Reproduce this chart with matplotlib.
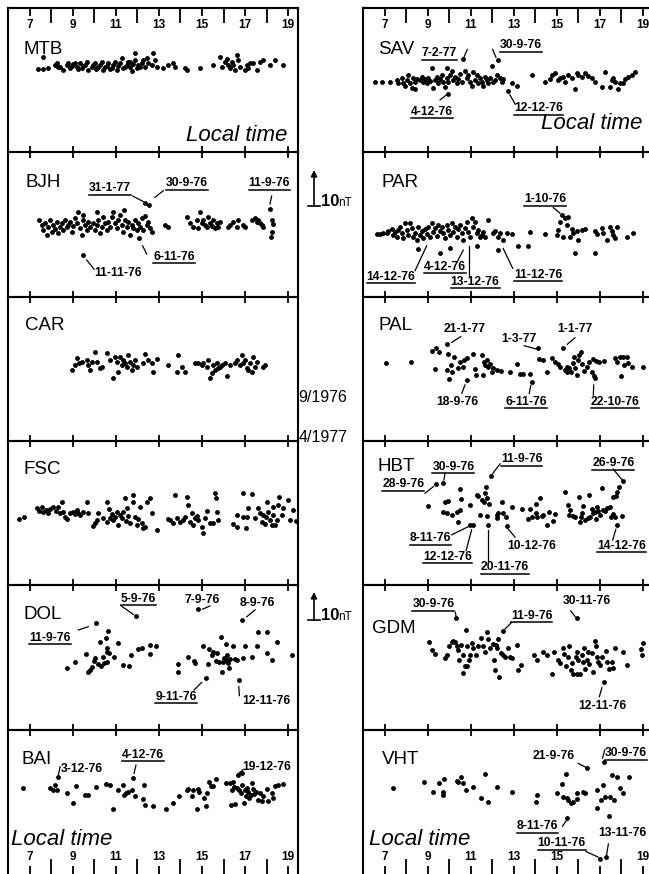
import matplotlib
matplotlib.use("Agg")
import matplotlib.pyplot as plt
from matplotlib.lines import Line2D
from matplotlib.patches import FancyArrowPatch

plt.rcParams['font.family'] = ['Liberation Sans', 'DejaVu Sans']

# Figure size in pixels (dpi 100)
W, H = 649, 874

# Local time ticks
HOUR_LABELS = [7, 9, 11, 13, 15, 17, 19]
EVEN_HOURS = [8, 10, 12, 14, 16, 18]
# Hour labels hidden behind data in the original
HIDDEN_LABELS = [("VHT", 17)]

# Station points: (local time [h], field value [nT above panel floor])
MTB = [(7.39, 25.2), (7.59, 25.2), (7.62, 28.9), (7.85, 25.5), (8.16, 26.5), (8.24, 27.0),
       (8.30, 25.8), (8.40, 26.0), (8.55, 25.0), (8.71, 26.5), (8.78, 27.2), (8.86, 25.5),
       (8.95, 26.2), (9.02, 26.8), (9.10, 27.2), (9.17, 26.0), (9.25, 25.2), (9.33, 27.0),
       (9.40, 25.5), (9.48, 26.2), (9.56, 26.5), (9.64, 27.4), (9.71, 25.0), (9.87, 26.0),
       (9.95, 26.5), (10.02, 27.0), (10.05, 25.2), (10.10, 25.5), (10.18, 26.0), (10.26, 26.5),
       (10.33, 27.4), (10.41, 25.0), (10.49, 25.8), (10.57, 26.2), (10.64, 27.2), (10.72, 25.4),
       (10.80, 25.5), (10.88, 26.5), (10.95, 27.4), (11.03, 24.8), (11.11, 26.2), (11.19, 27.0),
       (11.26, 28.5), (11.34, 25.5), (11.42, 26.0), (11.50, 26.5), (11.57, 27.4), (11.65, 26.0),
       (11.65, 27.5), (11.73, 24.5), (11.81, 26.8), (11.88, 28.0), (11.88, 30.0), (11.96, 25.5),
       (12.04, 26.5), (12.12, 25.8), (12.19, 27.0), (12.27, 28.0), (12.35, 26.0), (12.43, 28.5),
       (12.50, 27.0), (12.66, 26.5), (12.74, 30.0), (12.81, 28.0), (12.89, 26.0), (13.20, 25.5),
       (13.43, 26.5), (13.67, 27.0), (13.74, 26.0), (14.21, 25.5), (14.29, 25.0), (14.91, 25.5),
       (15.53, 26.5), (15.84, 29.0), (15.91, 26.0), (16.07, 27.4), (16.15, 28.4), (16.22, 26.5),
       (16.30, 25.5), (16.38, 27.4), (16.46, 26.5), (16.53, 25.0), (16.61, 29.4), (16.69, 28.0),
       (16.77, 26.0), (17.00, 25.0), (17.08, 26.5), (17.16, 25.5), (17.23, 27.2), (17.39, 27.0),
       (17.54, 25.0), (17.70, 27.4), (17.85, 28.0), (18.16, 26.5), (18.40, 28.1), (18.75, 26.5)]

SAV = [(6.53, 21.4), (6.84, 21.4), (7.23, 21.4), (7.54, 21.9), (7.62, 21.1), (7.78, 22.4),
       (7.85, 20.9), (7.93, 20.1), (8.01, 21.9), (8.09, 23.4), (8.16, 20.9), (8.24, 19.4),
       (8.32, 22.4), (8.40, 21.4), (8.40, 19.1), (8.47, 22.1), (8.63, 21.9), (8.71, 22.9),
       (8.78, 21.4), (8.86, 22.1), (8.94, 21.1), (9.02, 22.4), (9.09, 21.7), (9.17, 25.5),
       (9.25, 19.4), (9.33, 21.9), (9.40, 22.7), (9.48, 21.1), (9.56, 22.1), (9.64, 23.4),
       (9.71, 21.4), (9.79, 19.9), (9.87, 25.5), (9.87, 22.4), (9.95, 21.4), (10.02, 23.4),
       (10.10, 24.7), (10.18, 21.9), (10.26, 22.9), (10.33, 20.9), (10.41, 22.1), (10.49, 23.7),
       (10.57, 21.4), (10.64, 28.2), (10.72, 24.7), (10.80, 22.4), (10.88, 23.4), (10.95, 21.4),
       (11.03, 20.1), (11.11, 24.4), (11.19, 21.9), (11.26, 23.4), (11.34, 20.9), (11.42, 22.4),
       (11.50, 21.4), (11.57, 20.1), (11.65, 22.7), (11.73, 21.9), (11.81, 20.9), (11.88, 22.4),
       (11.96, 26.2), (12.04, 21.4), (12.12, 21.9), (12.19, 23.4), (12.27, 28.0), (12.35, 22.4),
       (12.43, 21.4), (12.50, 22.1), (12.74, 18.7), (12.89, 20.9), (13.12, 20.1), (13.82, 23.4),
       (14.44, 21.4), (14.67, 22.1), (14.75, 23.4), (14.91, 24.1), (15.06, 21.9), (15.14, 22.4),
       (15.29, 22.7), (15.37, 21.4), (15.53, 23.4), (15.68, 22.4), (15.84, 19.1), (15.91, 24.1),
       (15.99, 23.4), (16.15, 22.7), (16.30, 24.1), (16.46, 23.1), (16.61, 22.4), (16.77, 21.4),
       (17.08, 19.7), (17.23, 24.4), (17.47, 19.7), (17.54, 21.9), (17.62, 22.4), (17.70, 21.4),
       (17.85, 19.1), (17.93, 20.9), (18.09, 20.9), (18.16, 22.1), (18.32, 22.7), (18.47, 23.4),
       (18.63, 24.4), (9.95, 17.7)]

BJH = [(7.43, 23.2), (7.54, 21.7), (7.62, 20.2), (7.70, 22.4), (7.78, 18.7), (7.85, 21.0),
       (7.93, 23.2), (8.01, 19.7), (8.09, 21.7), (8.16, 20.4), (8.24, 22.7), (8.32, 19.2),
       (8.40, 21.2), (8.47, 22.2), (8.55, 20.2), (8.63, 23.2), (8.71, 21.0), (8.78, 21.7),
       (8.86, 22.7), (8.94, 19.7), (9.02, 21.4), (9.09, 23.7), (9.17, 22.2), (9.25, 25.8),
       (9.33, 20.7), (9.40, 18.7), (9.45, 23.2), (9.48, 24.7), (9.56, 21.7), (9.64, 20.2),
       (9.71, 22.7), (9.79, 21.2), (9.95, 22.4), (10.02, 20.2), (10.10, 25.8), (10.13, 21.7),
       (10.18, 23.2), (10.26, 19.2), (10.33, 21.0), (10.41, 24.2), (10.49, 22.2), (10.57, 20.2),
       (10.64, 22.7), (10.72, 21.2), (10.80, 24.2), (10.88, 25.8), (10.95, 22.2), (11.03, 20.7),
       (11.11, 23.2), (11.19, 24.7), (11.26, 21.7), (11.34, 19.7), (11.37, 26.3), (11.42, 23.2),
       (11.50, 21.2), (11.57, 22.7), (11.65, 18.7), (11.73, 21.7), (11.81, 20.7), (11.88, 23.2),
       (11.96, 20.2), (12.04, 22.2), (12.09, 17.7), (12.12, 21.2), (12.19, 23.7), (12.27, 20.2),
       (12.35, 24.4), (12.43, 21.7), (12.50, 22.7), (12.58, 20.7), (12.66, 19.7), (12.35, 28.5),
       (12.55, 27.8), (13.28, 21.7), (13.43, 21.0), (14.29, 24.2), (14.44, 22.2), (14.60, 21.2),
       (14.75, 23.2), (14.83, 20.7), (14.91, 25.8), (14.98, 22.2), (15.06, 23.2), (15.14, 21.7),
       (15.22, 21.0), (15.29, 24.0), (15.37, 22.4), (15.45, 21.4), (15.53, 23.2), (15.60, 20.7),
       (15.68, 22.2), (15.76, 21.2), (15.84, 22.7), (16.22, 21.0), (16.30, 21.7), (16.46, 22.7),
       (16.61, 21.0), (16.69, 23.2), (16.92, 21.7), (17.00, 21.0), (17.31, 23.2), (17.47, 23.7),
       (17.54, 22.7), (17.62, 23.2), (17.70, 22.2), (17.78, 21.7), (17.85, 21.0), (18.16, 26.5),
       (18.24, 23.2), (18.32, 22.0), (18.24, 19.7), (18.19, 18.2), (9.48, 12.6)]

PAR = [(6.61, 18.9), (6.77, 19.0), (6.92, 19.2), (7.08, 19.4), (7.16, 20.0), (7.31, 20.4),
       (7.39, 18.7), (7.47, 19.7), (7.54, 18.2), (7.62, 20.2), (7.70, 21.0), (7.78, 19.2),
       (7.85, 17.7), (7.93, 22.2), (8.01, 20.2), (8.09, 18.7), (8.16, 22.2), (8.24, 20.7),
       (8.32, 18.0), (8.40, 19.4), (8.47, 17.2), (8.55, 21.0), (8.63, 18.7), (8.71, 20.0),
       (8.78, 17.7), (8.86, 20.4), (8.94, 19.0), (9.02, 21.2), (9.09, 18.2), (9.17, 22.2),
       (9.25, 19.7), (9.33, 20.7), (9.40, 18.4), (9.48, 21.7), (9.56, 20.0), (9.64, 21.0),
       (9.71, 19.2), (9.79, 17.7), (9.87, 21.7), (9.95, 20.2), (10.02, 18.7), (10.10, 22.2),
       (10.18, 19.7), (10.26, 21.0), (10.33, 18.2), (10.41, 20.4), (10.49, 21.7), (10.57, 19.2),
       (10.64, 17.2), (10.72, 20.7), (10.80, 22.7), (10.88, 19.7), (10.95, 18.2), (11.03, 23.7),
       (11.11, 21.0), (11.19, 22.7), (11.26, 19.2), (11.34, 20.2), (11.42, 18.0), (11.50, 18.7),
       (11.57, 19.7), (11.65, 18.2), (11.81, 23.2), (12.04, 19.2), (12.12, 20.0), (12.27, 18.2),
       (12.35, 19.2), (12.50, 17.2), (12.66, 19.2), (12.89, 19.0), (13.20, 15.4), (13.67, 15.4),
       (13.74, 19.7), (14.44, 19.0), (14.98, 18.7), (15.06, 20.2), (15.14, 22.7), (15.22, 24.7),
       (15.29, 18.2), (15.37, 23.7), (15.45, 21.7), (15.53, 24.2), (15.60, 18.2), (15.68, 20.4),
       (15.76, 19.2), (15.84, 13.3), (15.91, 20.0), (15.99, 17.2), (16.15, 20.2), (16.30, 20.4),
       (16.77, 13.3), (16.77, 20.0), (16.84, 19.0), (17.08, 20.7), (17.16, 19.4), (17.31, 17.2),
       (17.47, 21.0), (17.54, 20.0), (17.62, 18.7), (17.70, 17.7), (17.78, 21.2), (18.24, 18.0),
       (18.55, 19.4), (8.55, 14.3), (9.56, 13.3), (10.02, 14.6), (11.26, 15.4), (12.27, 14.1)]

CAR = [(8.94, 21.5), (9.09, 23.0), (9.20, 25.3), (9.29, 23.5), (9.40, 24.0), (9.64, 24.5),
       (9.71, 23.0), (9.79, 21.5), (9.87, 23.8), (10.02, 27.1), (10.10, 24.0), (10.26, 22.0),
       (10.33, 22.5), (10.57, 26.6), (10.72, 24.5), (10.88, 19.2), (10.95, 25.6), (11.03, 24.0),
       (11.11, 20.8), (11.19, 25.6), (11.26, 23.0), (11.34, 24.5), (11.42, 23.5), (11.50, 22.5),
       (11.57, 26.1), (11.65, 24.0), (11.73, 21.5), (11.81, 23.0), (11.88, 24.5), (11.96, 22.5),
       (12.24, 23.5), (12.35, 26.3), (12.50, 24.5), (12.66, 23.5), (12.74, 20.8), (12.89, 24.8),
       (13.43, 23.0), (13.82, 20.8), (13.90, 26.1), (14.05, 22.5), (14.21, 20.8), (14.67, 23.5),
       (14.83, 23.5), (14.98, 23.0), (15.06, 23.5), (15.22, 22.5), (15.29, 24.5), (15.37, 19.0),
       (15.45, 20.5), (15.53, 23.0), (15.60, 21.5), (15.68, 23.5), (15.76, 22.0), (15.84, 22.5),
       (15.91, 23.0), (16.07, 23.5), (16.15, 19.8), (16.30, 23.0), (16.53, 23.5), (16.61, 24.5),
       (16.77, 23.0), (16.84, 26.1), (16.92, 23.5), (17.00, 24.5), (17.08, 22.2), (17.16, 21.5),
       (17.23, 23.5), (17.31, 20.8), (17.39, 25.6), (17.47, 22.5), (17.54, 24.0), (17.85, 22.5),
       (17.93, 23.0)]

PAL = [(7.05, 23.5), (8.21, 24.0), (9.17, 27.3), (9.33, 21.8), (9.37, 28.3), (9.53, 26.9),
       (9.87, 21.5), (9.90, 29.3), (9.95, 26.3), (9.99, 18.8), (10.05, 23.0), (10.10, 20.8),
       (10.21, 25.6), (10.41, 22.2), (10.49, 23.8), (10.61, 22.5), (10.67, 24.5), (10.80, 18.5),
       (10.83, 25.3), (11.08, 26.3), (11.19, 21.8), (11.23, 20.0), (11.50, 26.1), (11.54, 20.0),
       (11.60, 24.0), (11.65, 23.0), (11.73, 24.5), (11.81, 22.5), (11.88, 23.2), (11.96, 20.8),
       (12.04, 22.0), (12.19, 21.5), (12.38, 21.2), (12.81, 20.8), (13.12, 23.2), (13.28, 20.2),
       (13.43, 20.2), (13.74, 20.2), (13.82, 17.8), (14.13, 28.1), (14.18, 24.8), (14.36, 24.5),
       (14.55, 21.0), (14.75, 25.3), (14.91, 24.0), (15.06, 23.2), (15.14, 22.5), (15.29, 28.3),
       (15.37, 21.5), (15.45, 21.0), (15.48, 22.5), (15.57, 22.0), (15.64, 20.8), (15.73, 23.5),
       (15.79, 25.6), (15.84, 22.2), (15.91, 20.0), (15.99, 24.5), (16.04, 26.1), (16.10, 27.1),
       (16.15, 23.2), (16.26, 21.2), (16.38, 22.5), (16.50, 23.8), (16.61, 21.0), (16.69, 24.8),
       (16.72, 19.8), (16.77, 19.0), (16.81, 24.2), (16.97, 24.0), (17.19, 24.2), (17.70, 25.1),
       (17.81, 23.8), (17.93, 25.6), (17.96, 19.8), (18.05, 25.6), (18.12, 23.0), (18.24, 25.6),
       (18.32, 23.5), (18.47, 22.5), (18.98, 22.5)]

FSC = [(6.50, 20.0), (6.72, 20.8), (7.34, 23.3), (7.43, 22.6), (7.54, 23.6), (7.62, 22.3),
       (7.74, 22.8), (7.85, 22.0), (7.93, 23.0), (8.09, 23.6), (8.21, 22.6), (8.32, 23.8),
       (8.40, 21.8), (8.47, 25.4), (8.55, 22.3), (8.63, 20.6), (8.71, 20.0), (8.86, 21.8),
       (9.02, 22.3), (9.09, 21.6), (9.17, 22.8), (9.25, 22.0), (9.33, 21.3), (9.45, 22.3),
       (9.67, 25.4), (9.71, 21.8), (9.95, 18.0), (10.02, 19.0), (10.10, 19.8), (10.18, 22.0),
       (10.41, 20.3), (10.57, 19.3), (10.60, 25.1), (10.69, 23.0), (10.72, 20.3), (10.80, 21.6),
       (10.88, 19.8), (10.95, 20.8), (11.03, 22.3), (11.11, 18.3), (11.19, 21.3), (11.26, 20.3),
       (11.34, 22.3), (11.42, 26.4), (11.47, 19.6), (11.50, 23.3), (11.57, 21.0), (11.65, 18.8),
       (11.78, 27.4), (11.81, 25.1), (11.88, 20.6), (11.96, 18.3), (12.04, 20.0), (12.12, 23.6),
       (12.19, 18.8), (12.27, 17.3), (12.35, 17.8), (12.43, 25.4), (12.58, 26.4), (12.66, 21.8),
       (12.89, 16.8), (13.43, 20.0), (13.51, 19.8), (13.64, 18.8), (13.74, 27.4), (13.82, 20.3),
       (13.98, 19.3), (14.10, 19.8), (14.21, 20.8), (14.32, 26.9), (14.36, 24.3), (14.44, 19.3),
       (14.52, 21.8), (14.60, 18.3), (14.67, 20.3), (14.75, 21.0), (14.83, 19.8), (14.98, 17.8),
       (15.03, 15.8), (15.14, 20.3), (15.22, 22.5), (15.37, 18.8), (15.53, 19.0), (15.60, 27.9),
       (15.65, 26.4), (15.68, 22.3), (15.76, 19.8), (16.43, 18.6), (16.61, 17.6), (16.64, 21.3),
       (16.89, 27.9), (16.92, 20.6), (17.05, 17.3), (17.11, 20.6), (17.16, 23.3), (17.31, 27.7),
       (17.47, 20.3), (17.62, 23.3), (17.70, 21.8), (17.78, 19.3), (17.82, 21.3), (17.93, 18.6),
       (17.98, 20.6), (18.01, 25.4), (18.09, 22.3), (18.16, 19.8), (18.24, 18.3), (18.29, 21.3),
       (18.32, 23.8), (18.40, 18.3), (18.47, 19.8), (18.55, 24.3), (18.60, 26.9), (18.71, 21.3),
       (18.78, 23.3), (19.02, 25.9), (19.09, 19.8), (19.25, 22.8), (19.37, 19.6)]

HBT = [(9.02, 24.0), (9.37, 30.7), (9.71, 31.1), (9.79, 25.1), (9.68, 22.3), (9.87, 21.8),
       (9.95, 25.7), (10.10, 21.3), (10.36, 22.3), (10.41, 19.3), (10.49, 29.1), (10.49, 22.8),
       (10.52, 26.1), (10.95, 24.3), (10.95, 18.3), (11.08, 18.3), (11.26, 27.4), (11.34, 27.1),
       (11.42, 21.3), (11.50, 25.9), (11.60, 25.4), (11.65, 27.9), (11.70, 29.7), (11.73, 26.4),
       (11.76, 21.0), (11.81, 18.3), (11.85, 24.6), (11.93, 33.1), (12.19, 21.3), (12.22, 20.3),
       (12.27, 21.8), (12.43, 25.4), (12.50, 22.0), (12.63, 20.6), (12.66, 18.0), (12.89, 23.6),
       (13.36, 23.0), (13.67, 20.0), (13.74, 23.0), (13.82, 20.6), (14.02, 24.6), (14.02, 22.0),
       (14.05, 20.6), (14.21, 26.4), (14.29, 21.0), (14.36, 21.3), (14.55, 18.3), (14.64, 22.3),
       (14.80, 19.6), (14.91, 21.6), (15.37, 28.4), (15.53, 24.3), (15.57, 21.3), (15.60, 22.8),
       (15.73, 21.0), (15.84, 20.8), (16.04, 26.7), (16.07, 19.3), (16.10, 20.6), (16.15, 21.8),
       (16.22, 24.0), (16.30, 19.8), (16.46, 20.3), (16.50, 27.4), (16.53, 20.6), (16.61, 23.0),
       (16.69, 22.0), (16.77, 22.3), (16.81, 20.0), (16.84, 23.6), (16.92, 22.6), (17.00, 21.3),
       (17.08, 29.4), (17.12, 22.8), (17.23, 22.6), (17.31, 23.3), (17.47, 23.8), (17.50, 20.6),
       (17.59, 21.6), (17.62, 26.9), (17.70, 20.6), (17.74, 27.1), (17.78, 18.3), (17.81, 28.4),
       (17.90, 29.9), (18.01, 21.0), (18.05, 31.7)]

DOL = [(8.71, 18.6), (9.09, 20.6), (9.60, 22.8), (9.71, 17.4), (9.79, 18.1), (9.87, 19.1),
       (9.98, 20.8), (10.02, 21.8), (10.05, 32.2), (10.18, 19.8), (10.26, 26.7), (10.29, 19.4),
       (10.41, 22.1), (10.44, 20.1), (10.53, 27.9), (10.57, 24.6), (10.57, 20.4), (10.60, 23.6),
       (10.64, 29.9), (10.69, 23.1), (10.91, 22.1), (11.11, 26.2), (11.31, 19.6), (11.62, 19.4),
       (11.68, 22.6), (11.93, 34.5), (12.04, 24.4), (12.19, 24.6), (12.58, 25.7), (12.58, 22.8),
       (12.86, 25.2), (13.90, 19.8), (13.90, 17.4), (14.33, 22.1), (14.63, 20.8), (14.67, 20.1),
       (14.83, 36.6), (15.06, 25.5), (15.19, 15.6), (15.29, 19.8), (15.34, 24.4), (15.45, 22.6),
       (15.53, 23.6), (15.65, 20.8), (15.71, 23.1), (15.81, 20.4), (15.88, 28.2), (15.91, 17.6),
       (15.96, 20.4), (16.02, 21.8), (16.12, 26.1), (16.15, 21.1), (16.18, 22.6), (16.22, 20.1),
       (16.27, 18.8), (16.30, 21.4), (16.43, 25.5), (16.53, 21.4), (16.64, 21.1), (16.71, 14.9),
       (16.84, 33.2), (16.92, 21.8), (17.00, 25.2), (17.31, 22.1), (17.54, 25.2), (17.62, 29.5),
       (18.01, 29.7), (18.01, 23.1), (18.24, 21.1), (18.50, 26.5), (19.17, 22.6)]

GDM = [(9.06, 26.5), (9.17, 24.1), (9.33, 22.8), (9.79, 21.8), (9.90, 22.6), (9.99, 25.2),
       (10.10, 26.7), (10.18, 26.9), (10.26, 26.5), (10.30, 33.7), (10.33, 25.2), (10.41, 24.1),
       (10.46, 21.1), (10.52, 25.7), (10.61, 22.6), (10.64, 17.1), (10.72, 19.4), (10.77, 30.2),
       (10.80, 25.2), (10.83, 19.4), (10.92, 21.1), (10.95, 22.6), (11.03, 26.2), (11.11, 24.8),
       (11.23, 22.6), (11.34, 25.2), (11.45, 27.7), (11.54, 25.2), (11.65, 23.4), (11.73, 29.5),
       (11.81, 27.5), (11.88, 24.6), (12.01, 25.9), (12.07, 21.1), (12.12, 18.1), (12.16, 25.7),
       (12.22, 24.8), (12.27, 27.5), (12.32, 16.1), (12.38, 23.1), (12.47, 22.6), (12.50, 29.9),
       (12.58, 22.1), (12.74, 24.6), (12.81, 22.1), (12.89, 21.8), (13.16, 25.7), (13.20, 18.1),
       (13.31, 19.6), (13.93, 22.6), (14.05, 21.1), (14.36, 23.4), (14.55, 22.6), (14.75, 16.8),
       (14.86, 23.4), (15.06, 21.1), (15.14, 20.1), (15.26, 24.8), (15.33, 22.8), (15.42, 19.4),
       (15.53, 22.1), (15.57, 25.5), (15.64, 18.1), (15.68, 20.1), (15.73, 16.8), (15.88, 22.1),
       (15.91, 23.6), (15.95, 16.8), (15.99, 21.1), (16.07, 16.8), (16.15, 22.6), (16.19, 20.6),
       (16.26, 24.8), (16.30, 18.4), (16.38, 21.1), (16.46, 23.6), (16.50, 19.8), (16.61, 23.1),
       (16.69, 17.4), (16.77, 26.9), (16.81, 25.2), (16.84, 22.1), (16.92, 20.4), (17.00, 19.6),
       (17.08, 22.1), (17.19, 14.3), (17.28, 23.8), (17.34, 20.4), (17.43, 18.4), (17.54, 20.4),
       (17.62, 18.6), (17.70, 24.6), (18.05, 23.4), (18.24, 19.6), (18.89, 24.4), (18.94, 22.6),
       (18.98, 26.2), (15.91, 33.7)]

BAI = [(6.66, 26.0), (7.93, 26.0), (8.05, 25.5), (8.16, 27.0), (8.27, 25.3), (8.32, 29.3),
       (8.71, 24.4), (9.02, 21.6), (9.14, 26.7), (9.56, 23.9), (9.71, 23.9), (10.07, 26.5),
       (10.53, 27.3), (10.72, 27.0), (10.88, 19.6), (11.11, 25.5), (11.31, 27.0), (11.37, 23.9),
       (11.47, 24.4), (11.57, 24.9), (11.73, 25.5), (11.81, 29.0), (11.88, 23.6), (12.24, 22.6),
       (12.30, 27.0), (12.35, 20.9), (12.71, 20.6), (13.33, 19.6), (13.67, 21.6), (13.95, 23.6),
       (14.29, 25.5), (14.36, 25.7), (14.52, 23.6), (14.57, 25.3), (14.78, 19.6), (14.83, 25.7),
       (14.88, 24.9), (15.09, 22.9), (15.19, 20.6), (15.25, 24.4), (15.34, 28.0), (15.40, 26.7),
       (15.53, 26.7), (15.65, 28.7), (16.12, 27.7), (16.30, 27.5), (16.33, 20.9), (16.38, 25.5),
       (16.43, 28.0), (16.49, 26.3), (16.53, 21.2), (16.64, 26.0), (16.69, 30.0), (16.74, 25.3),
       (16.80, 24.4), (16.84, 27.0), (16.95, 21.4), (17.00, 25.3), (17.05, 23.6), (17.11, 26.0),
       (17.16, 24.9), (17.20, 22.9), (17.26, 23.9), (17.31, 27.7), (17.36, 25.7), (17.42, 24.2),
       (17.51, 24.9), (17.62, 22.4), (17.70, 24.6), (17.78, 22.2), (17.85, 23.6), (18.01, 25.7),
       (18.09, 22.2), (18.24, 24.6), (18.32, 22.9), (18.40, 26.7), (18.55, 27.0), (18.75, 27.3),
       (16.84, 30.7)]

VHT = [(7.39, 26.0), (8.81, 28.0), (9.22, 24.9), (9.53, 27.7), (9.68, 24.9), (9.71, 23.9),
       (9.74, 28.7), (10.33, 28.3), (10.41, 28.0), (10.52, 29.3), (10.61, 27.5), (10.77, 25.5),
       (11.08, 26.3), (11.45, 22.9), (11.65, 30.3), (11.81, 21.9), (12.19, 26.3), (12.89, 24.9),
       (14.02, 21.9), (14.09, 23.9), (14.98, 24.6), (15.22, 27.3), (15.26, 23.4), (15.42, 30.3),
       (15.45, 22.9), (15.53, 22.4), (15.64, 21.6), (15.73, 21.9), (15.91, 24.6), (15.95, 22.6),
       (16.19, 24.9), (16.30, 24.6), (16.41, 32.0), (16.84, 25.3), (16.84, 19.9), (17.03, 22.4),
       (17.16, 27.0), (17.19, 34.0), (17.23, 23.4), (17.43, 17.6), (17.47, 23.2), (17.54, 30.0),
       (17.65, 22.4), (17.81, 29.3), (17.93, 26.0), (18.09, 24.4), (18.36, 29.5), (15.48, 16.9),
       (17.00, 4.4), (17.28, 5.1)]

# Date notes: (text, text x, text y, leader x0, y0, x1, y1, underlined)
MTB_NOTES = []
SAV_NOTES = [("7-2-77", 9.53, 30.0, 10.67, 28.8, 10.83, 31.2, True),
             ("30-9-76", 13.31, 32.5, 12.01, 31.2, 12.16, 28.8, True),
             ("4-12-76", 9.17, 12.3, 9.56, 15.9, 9.90, 17.6, True),
             ("12-12-76", 14.13, 13.3, 12.81, 17.4, 13.06, 14.6, True)]
BJH_NOTES = [("31-1-77", 10.72, 32.8, 11.78, 30.5, 12.27, 28.8, True),
             ("30-9-76", 14.29, 34.3, 13.20, 32.1, 12.81, 30.1, True),
             ("6-11-76", 13.70, 12.1, 12.24, 15.4, 12.43, 12.9, True),
             ("11-11-76", 11.11, 7.1, 9.64, 11.1, 9.98, 8.3, False),
             ("11-9-76", 18.13, 34.3, 18.24, 30.5, 18.16, 28.1, True)]
PAR_NOTES = [("1-10-76", 14.44, 29.5, 14.83, 27.0, 15.14, 25.3, True),
             ("14-12-76", 7.28, 6.1, 8.40, 7.9, 8.94, 15.4, True),
             ("4-12-76", 9.79, 9.1, 10.36, 10.6, 10.64, 14.1, True),
             ("13-12-76", 11.19, 4.5, 10.92, 6.3, 10.92, 15.4, True),
             ("11-12-76", 14.13, 6.6, 12.94, 8.6, 12.50, 14.6, True)]
CAR_NOTES = []
PAL_NOTES = [("21-1-77", 10.72, 33.9, 10.52, 31.6, 10.10, 29.9, False),
             ("1-3-77", 13.25, 30.9, 13.47, 28.9, 14.02, 27.9, False),
             ("1-1-77", 15.84, 33.9, 15.84, 31.3, 15.48, 29.3, False),
             ("18-9-76", 10.38, 11.9, 10.57, 14.4, 10.72, 17.0, False),
             ("6-11-76", 13.56, 11.9, 13.71, 14.4, 13.78, 16.8, True),
             ("22-10-76", 17.70, 11.9, 16.69, 13.9, 16.71, 17.0, True)]
FSC_NOTES = []
HBT_NOTES = [("30-9-76", 10.18, 36.0, 9.79, 34.0, 9.74, 31.9, True),
             ("28-9-76", 7.85, 30.7, 8.86, 27.9, 9.25, 29.9, True),
             ("11-9-76", 13.36, 38.2, 12.35, 36.8, 12.01, 33.9, True),
             ("26-9-76", 17.62, 37.0, 17.62, 35.2, 18.01, 32.1, True),
             ("8-11-76", 9.12, 14.2, 10.10, 15.3, 10.88, 17.8, True),
             ("12-12-76", 9.90, 8.7, 10.77, 10.5, 11.03, 16.8, True),
             ("20-11-76", 12.58, 5.5, 11.81, 7.2, 11.81, 16.8, True),
             ("10-12-76", 13.82, 12.0, 13.05, 14.6, 12.74, 17.0, False),
             ("14-12-76", 18.01, 12.0, 17.59, 13.7, 17.74, 17.0, True)]
DOL_NOTES = [("5-9-76", 12.04, 39.6, 11.22, 37.6, 11.81, 34.9, True),
             ("7-9-76", 15.03, 39.3, 15.03, 36.5, 15.37, 37.5, False),
             ("8-9-76", 17.57, 38.3, 17.08, 34.2, 17.47, 36.3, False),
             ("11-9-76", 7.93, 27.9, 9.25, 30.2, 9.71, 31.2, True),
             ("9-11-76", 13.79, 10.0, 14.63, 12.0, 14.98, 14.3, True),
             ("12-11-76", 18.01, 8.7, 16.74, 10.3, 16.71, 13.0, False)]
GDM_NOTES = [("30-9-76", 9.25, 38.0, 10.27, 35.6, 10.30, 34.5, True),
             ("11-9-76", 13.82, 34.5, 12.89, 32.5, 12.58, 30.5, True),
             ("30-11-76", 16.38, 39.0, 15.64, 36.0, 15.84, 34.3, False),
             ("12-11-76", 17.12, 7.3, 16.97, 10.0, 17.09, 12.7, False)]
BAI_NOTES = [("3-12-76", 9.40, 31.7, 8.32, 30.0, 8.40, 32.5, False),
             ("4-12-76", 12.27, 36.1, 11.93, 33.0, 11.84, 30.5, True),
             ("19-12-76", 18.01, 32.5, 16.72, 30.6, 16.92, 31.6, False)]
VHT_NOTES = [("21-9-76", 14.86, 35.8, 15.99, 33.5, 16.35, 32.3, False),
             ("30-9-76", 18.22, 36.6, 17.12, 35.1, 17.22, 37.6, True),
             ("8-11-76", 14.09, 14.5, 15.26, 14.5, 15.48, 16.6, True),
             ("10-11-76", 15.22, 9.3, 16.35, 6.8, 16.92, 5.1, True),
             ("13-11-76", 18.05, 12.3, 17.39, 9.1, 17.31, 5.8, False)]

# Station name and where its label sits (axes fraction)
LEFT_COLUMN = [("MTB", (0.052, 0.71), MTB, MTB_NOTES),
               ("BJH", (0.059, 0.79), BJH, BJH_NOTES),
               ("CAR", (0.059, 0.80), CAR, CAR_NOTES),
               ("FSC", (0.052, 0.80), FSC, FSC_NOTES),
               ("DOL", (0.052, 0.80), DOL, DOL_NOTES),
               ("BAI", (0.048, 0.79), BAI, BAI_NOTES)]
RIGHT_COLUMN = [("SAV", (0.052, 0.71), SAV, SAV_NOTES),
                ("PAR", (0.065, 0.79), PAR, PAR_NOTES),
                ("PAL", (0.052, 0.80), PAL, PAL_NOTES),
                ("HBT", (0.050, 0.82), HBT, HBT_NOTES),
                ("GDM", (0.030, 0.70), GDM, GDM_NOTES),
                ("VHT", (0.065, 0.79), VHT, VHT_NOTES)]


def main():
    fig = plt.figure(figsize=(W / 100, H / 100), dpi=100)
    fig.patch.set_facecolor("white")

    row_top, row_h = 8.0, 144.33
    columns = [(8, 298, (5.977, 19.465), LEFT_COLUMN),
               (363, 652, (5.977, 19.42), RIGHT_COLUMN)]
    underlined = []

    for x0, x1, xlim, stations in columns:
        for i, (name, lpos, points, notes) in enumerate(stations):
            bottom = row_top + (i + 1) * row_h
            ax = fig.add_axes([x0 / W, 1 - bottom / H, (x1 - x0) / W, row_h / H])
            ax.set_facecolor("none")
            ax.set_xlim(*xlim)
            ax.set_ylim(0, 43.74)
            ax.set_yticks([])
            for sp in ax.spines.values():
                sp.set_linewidth(1.5)

            # Time ticks
            ax.set_xticks(HOUR_LABELS)
            ax.set_xticks(EVEN_HOURS, minor=True)
            ax.tick_params(axis="x", which="both", labelbottom=False, top=False,
                           width=1.3, color="black")
            if i < 5:
                ax.tick_params(axis="x", which="major", direction="inout", length=8.6)
                ax.tick_params(axis="x", which="minor", length=0)
            else:
                ax.spines["bottom"].set_visible(False)
                ax.tick_params(axis="x", which="major", direction="in", length=5.5)
                ax.tick_params(axis="x", which="minor", direction="in", length=11)
                for h in HOUR_LABELS:
                    if (name, h) in HIDDEN_LABELS:
                        continue
                    ax.text(h, 0.118, str(h), transform=ax.get_xaxis_transform(),
                            ha="center", va="center", fontsize=8.5, fontweight="bold")
                ax.text(0.01 if x0 < 100 else 0.02, 0.24, "Local time",
                        transform=ax.transAxes, ha="left", va="center",
                        fontsize=16, style="italic")
            if i == 0:
                sec = ax.secondary_xaxis("top")
                sec.set_xticks(HOUR_LABELS)
                sec.set_xticks(EVEN_HOURS, minor=True)
                sec.spines["top"].set_linewidth(1.5)
                sec.tick_params(which="both", direction="in", labeltop=False,
                                width=1.3, color="black")
                sec.tick_params(which="major", length=5.8)
                sec.tick_params(which="minor", length=10.8)
                for h in HOUR_LABELS:
                    ax.text(h, 0.882, str(h), transform=ax.get_xaxis_transform(),
                            ha="center", va="center", fontsize=8.5, fontweight="bold")
                ly = 0.12 if x0 < 100 else 0.20
                ax.text(0.965, ly, "Local time", transform=ax.transAxes,
                        ha="right", va="center", fontsize=16, style="italic")

            # Station name
            ax.text(lpos[0], lpos[1], name, transform=ax.transAxes,
                    ha="left", va="center", fontsize=13.5)

            # Points
            t = [p[0] for p in points]
            b = [p[1] for p in points]
            ax.plot(t, b, "o", ms=3.5, color="black", mec="none", clip_on=False)

            # Dated events with leaders
            for text, tx, ty, lx0, ly0, lx1, ly1, under in notes:
                ax.plot([lx0, lx1], [ly0, ly1], color="black", lw=0.9, clip_on=False)
                txt = ax.text(tx, ty, text, ha="center", va="center",
                              fontsize=8.7, fontweight="bold", clip_on=False)
                if under:
                    underlined.append(txt)

    # Middle annotations: epoch and scale bars
    fig.text(323 / W, 1 - 398 / H, "9/1976", ha="center", va="center", fontsize=11.5)
    fig.text(323 / W, 1 - 437 / H, "4/1977", ha="center", va="center", fontsize=11.5)
    for y_low, y_high in [(206, 170), (620, 592)]:
        fig.add_artist(FancyArrowPatch((314 / W, 1 - y_low / H), (314 / W, 1 - y_high / H),
                                       transform=fig.transFigure, arrowstyle="-|>",
                                       mutation_scale=9, lw=1.2, color="black",
                                       shrinkA=0, shrinkB=0))
        fig.add_artist(Line2D([308 / W, 320 / W], [1 - y_low / H] * 2,
                              transform=fig.transFigure, color="black", lw=1.2))
        fig.text(321 / W, 1 - y_low / H, "10", ha="left", va="baseline",
                 fontsize=12, fontweight="bold")
        fig.text(338 / W, 1 - y_low / H, "nT", ha="left", va="baseline", fontsize=8.5)

    # Underline the marked dates
    fig.canvas.draw()
    renderer = fig.canvas.get_renderer()
    for txt in underlined:
        bb = txt.get_window_extent(renderer)
        yy = (bb.y0 - 0.5) / H
        fig.add_artist(Line2D([bb.x0 / W, bb.x1 / W], [yy, yy],
                              transform=fig.transFigure, color="black", lw=1.1))

    fig.savefig("out.png", dpi=100, facecolor="white")


if __name__ == "__main__":
    main()
